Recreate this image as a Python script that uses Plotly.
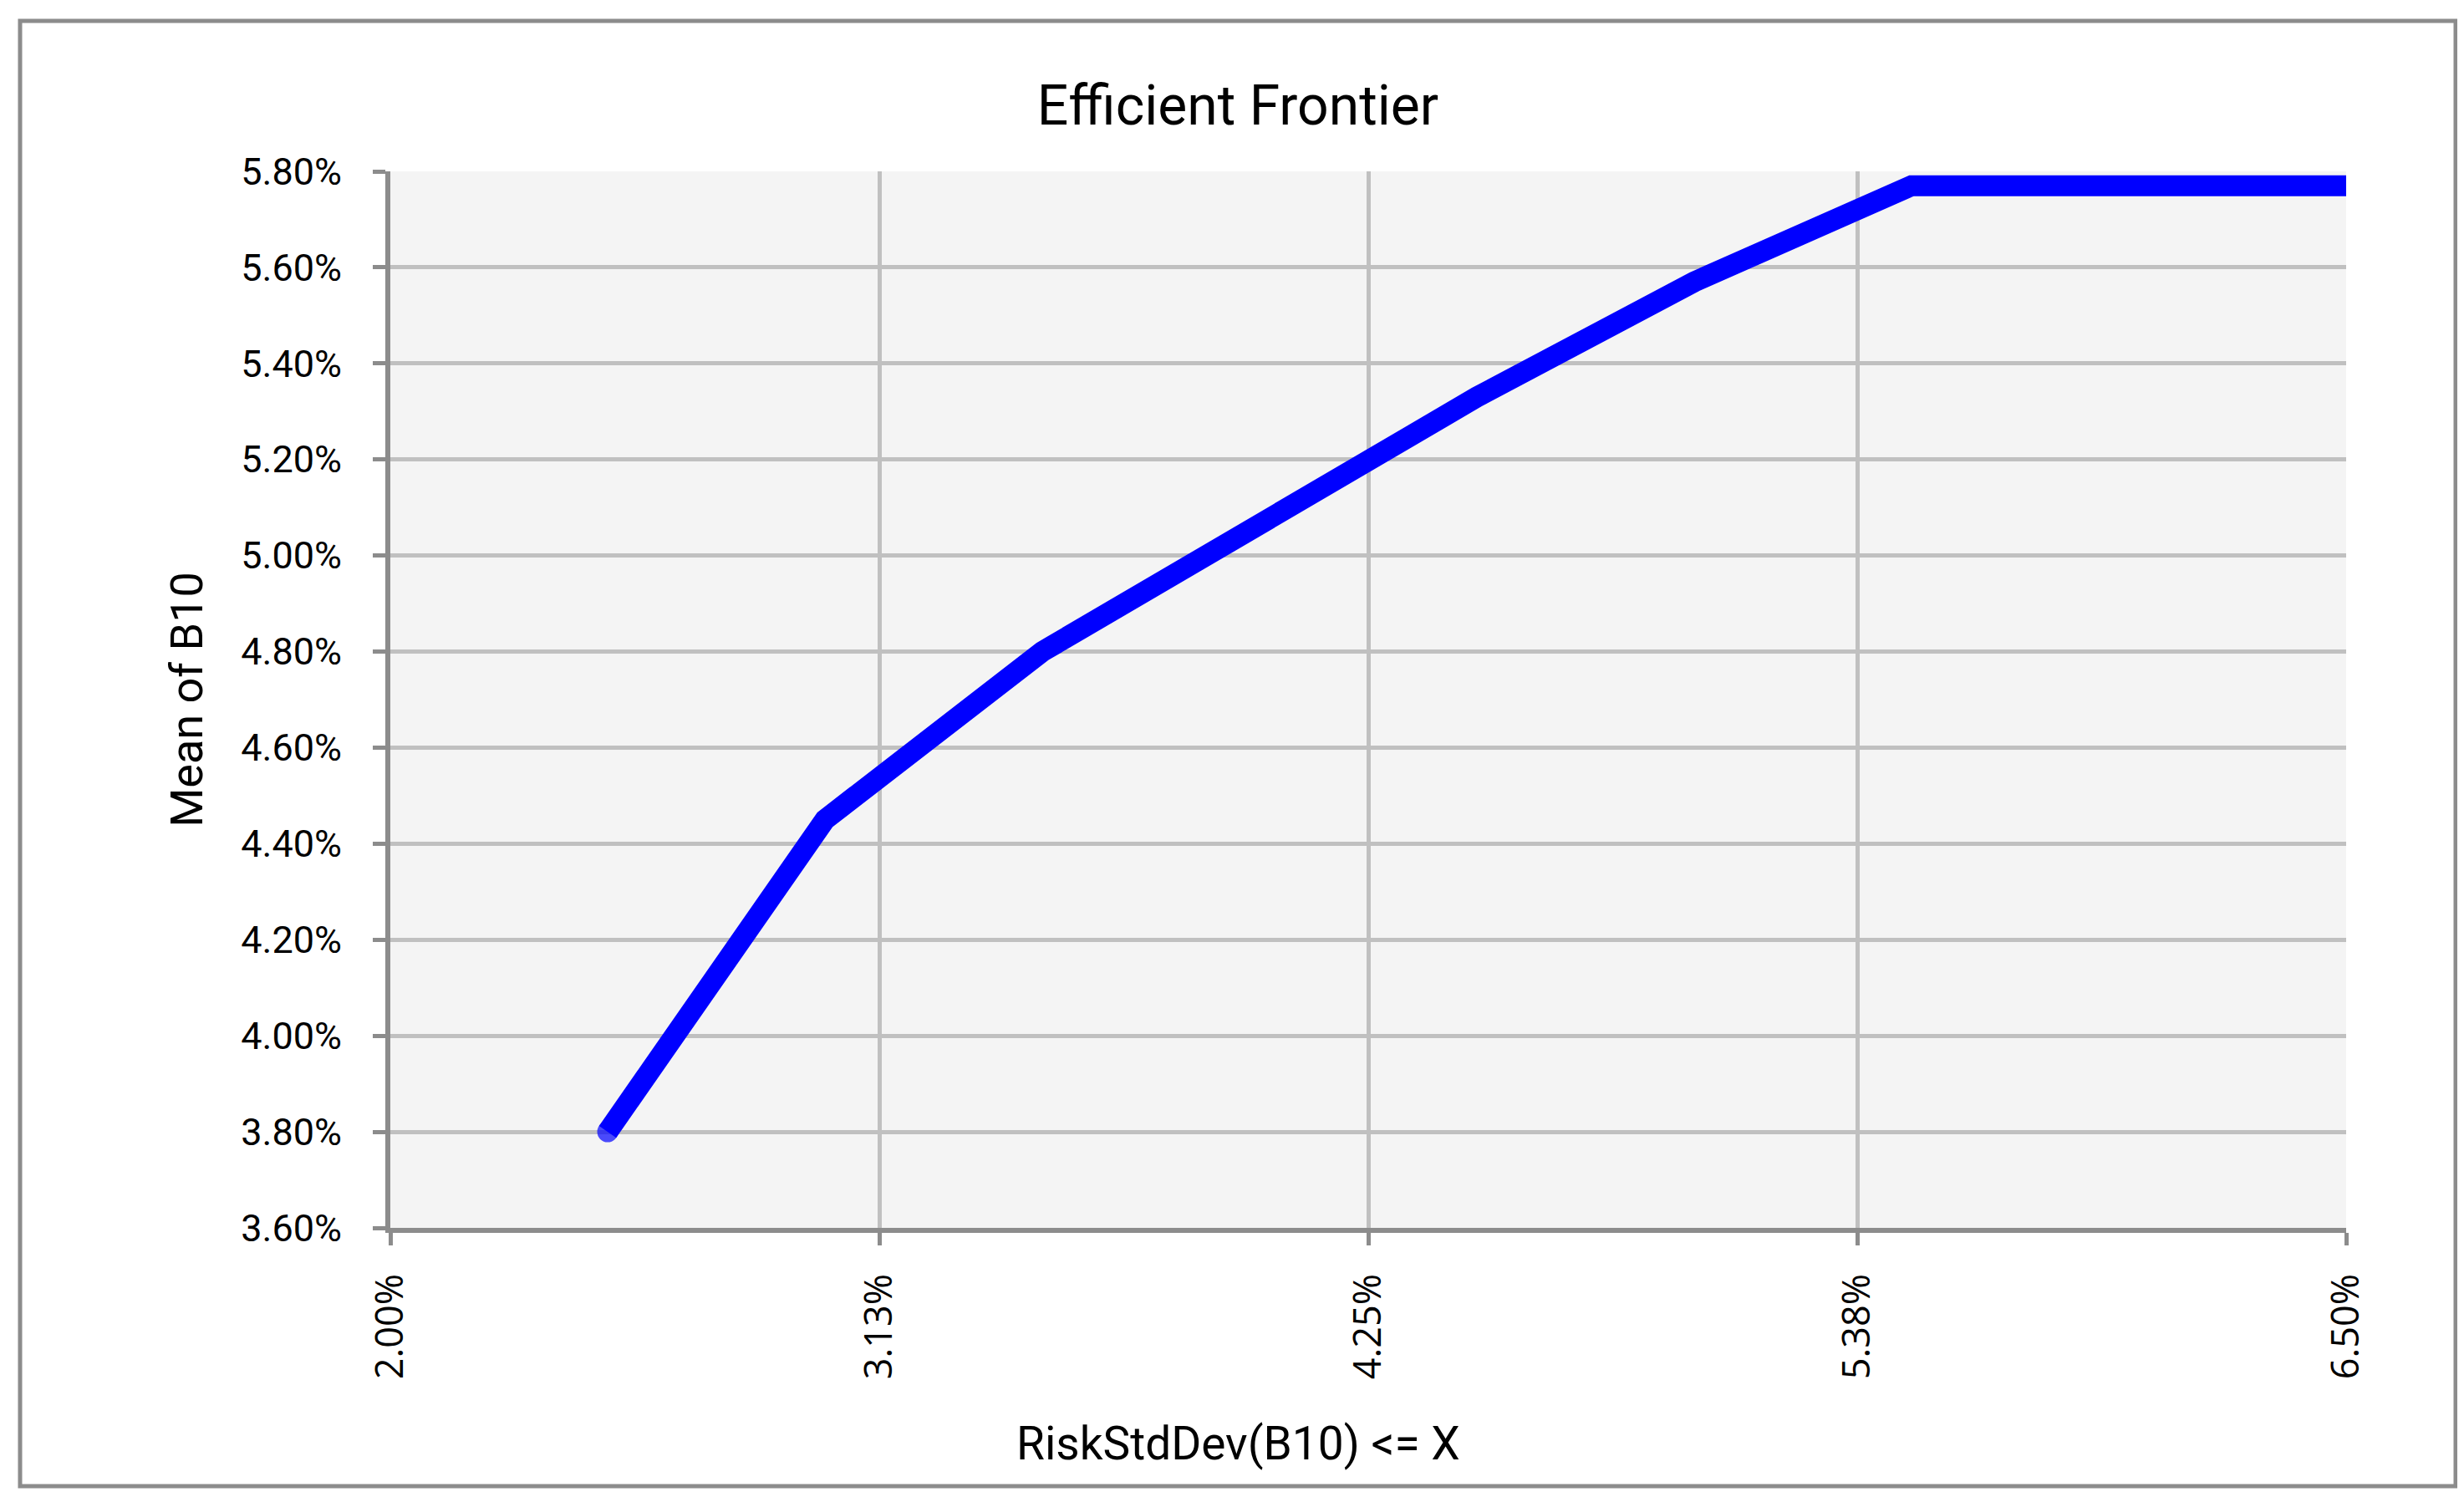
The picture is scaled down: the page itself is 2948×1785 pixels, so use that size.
"""Fronteira eficiente: media vs desvio padrao (grafico de linha Plotly)."""

import plotly.graph_objects as go

# Dados (fracoes, eixo em %)
RISCO_MAX = [0.025, 0.030, 0.035, 0.040, 0.045, 0.050, 0.055, 0.060, 0.065]
MEDIA = [0.0380, 0.0445, 0.0480, 0.0506, 0.0533, 0.0557, 0.0577, 0.0577, 0.0577]

X_TICKS = [0.02, 0.03125, 0.0425, 0.05375, 0.065]
X_TICK_TEXT = ["2.00%", "3.13%", "4.25%", "5.38%", "6.50%"]

TITULO = "Efficient Frontier"
TITULO_X = "RiskStdDev(B10) <= X"
TITULO_Y = "Mean of B10"

# Layout em pixels (janela 2948x1785)
W, H = 2948, 1785
PLOT_L, PLOT_R, PLOT_T, PLOT_B = 459, 2799, 197, 1461
FRAME = dict(l=16, r=2930, t=17, b=1770)

GRAY = "#8c8c8c"
GRID = "#c0c0c0"
LINE_W = 25


def px_to_paper_x(px):
    return (px - PLOT_L) / (PLOT_R - PLOT_L)


def px_to_paper_y(py):
    return (PLOT_B - py) / (PLOT_B - PLOT_T)


# marcador so no primeiro ponto para imitar a ponta arredondada
tamanhos = [LINE_W] + [0] * (len(RISCO_MAX) - 1)

fig = go.Figure(
    go.Scatter(
        x=RISCO_MAX,
        y=MEDIA,
        mode="lines+markers",
        line=dict(color="#0000ff", width=LINE_W),
        marker=dict(color="#0000ff", size=tamanhos, line=dict(width=0)),
        showlegend=False,
    )
)

eixo = dict(
    showline=True,
    linecolor=GRAY,
    linewidth=6,
    ticks="outside",
    ticklen=15,
    tickwidth=5,
    tickcolor=GRAY,
    showgrid=True,
    gridcolor=GRID,
    gridwidth=5,
    zeroline=False,
    automargin=False,
)

fig.update_layout(
    width=W,
    height=H,
    margin=dict(l=PLOT_L, r=W - PLOT_R, t=PLOT_T, b=H - PLOT_B, autoexpand=False),
    paper_bgcolor="white",
    plot_bgcolor="#f4f4f4",
    font=dict(family="Roboto, sans-serif", color="black"),
    title=dict(
        text=TITULO,
        xref="container",
        x=(FRAME["l"] + FRAME["r"]) / 2 / W,
        xanchor="center",
        yref="container",
        y=1 - 118 / H,
        yanchor="middle",
        font=dict(size=66),
    ),
    xaxis=dict(
        range=[0.02, 0.065],
        tickvals=X_TICKS,
        ticktext=X_TICK_TEXT,
        tickangle=-90,
        tickfont=dict(family="Open Sans, sans-serif", size=45),
        ticklabelstandoff=16,
        **eixo,
    ),
    yaxis=dict(
        range=[0.036, 0.058],
        dtick=0.002,
        tick0=0.036,
        tickformat=".2%",
        tickfont=dict(size=45),
        ticklabelstandoff=28,
        title=dict(text=TITULO_Y, font=dict(size=54), standoff=30),
        **eixo,
    ),
    annotations=[
        dict(
            text=TITULO_X,
            xref="paper",
            yref="paper",
            x=px_to_paper_x((FRAME["l"] + FRAME["r"]) / 2),
            y=px_to_paper_y(1719),
            xanchor="center",
            yanchor="middle",
            showarrow=False,
            font=dict(size=55),
        )
    ],
    shapes=[
        dict(
            type="rect",
            xref="paper",
            yref="paper",
            x0=px_to_paper_x(FRAME["l"]),
            x1=px_to_paper_x(FRAME["r"]),
            y0=px_to_paper_y(FRAME["b"]),
            y1=px_to_paper_y(FRAME["t"]),
            line=dict(color=GRAY, width=5),
            fillcolor="rgba(0,0,0,0)",
        )
    ],
)

fig.write_html("out.html")
